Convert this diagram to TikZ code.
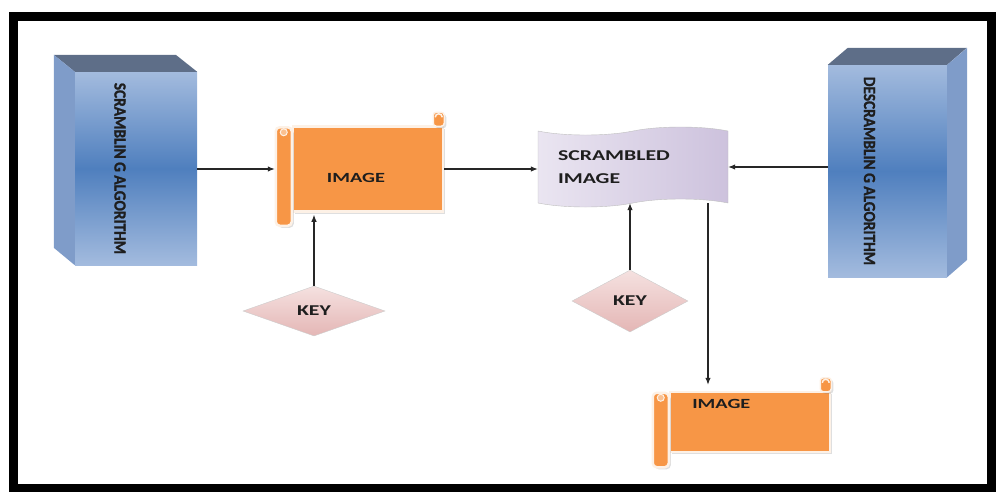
\documentclass[tikz,border=0pt]{standalone}
\usepackage{fontspec}
\setmainfont{Carlito}
\newfontfamily\widefont{Carlito}[FakeStretch=1.45]
\newfontfamily\tallfont{Carlito}[FakeStretch=0.9, FakeBold=1.2]
\usetikzlibrary{shapes.geometric,shapes.symbols,arrows.meta,shadows}
\definecolor{boxlight}{HTML}{A3BBDE}
\definecolor{boxdark}{HTML}{4F7FBE}
\definecolor{boxtop}{HTML}{5E6E88}
\definecolor{boxside}{HTML}{7F9CC9}
\definecolor{scrollorange}{HTML}{F79646}
\definecolor{scrollrim}{HTML}{FDF1E6}
\definecolor{keytop}{HTML}{F5E1E0}
\definecolor{keybot}{HTML}{E4B6B5}
\definecolor{tapeleft}{HTML}{EAE5F1}
\definecolor{taperight}{HTML}{CDC2DD}
\definecolor{txt}{HTML}{1E1E1E}

\begin{document}
\begin{tikzpicture}[x=1pt,y=-1pt,
algo/.style={draw=none, shading=axis, top color=boxlight, bottom color=boxlight,
    middle color=boxdark, inner sep=0},
algotext/.style={rotate=-90, text=txt, font=\tallfont\bfseries\fontsize{17}{19}\selectfont},
scroll/.style={fill=scrollorange, draw=scrollrim, line width=2.5,
    drop shadow={opacity=0.25, shadow xshift=2pt, shadow yshift=-2pt}},
lbl/.style={text=txt, font=\widefont\bfseries\fontsize{14}{17}\selectfont},
key/.style={diamond, inner sep=0, draw=black!20, top color=keytop, bottom color=keybot,
    text=txt, font=\widefont\bfseries\fontsize{15}{17}\selectfont},
arr/.style={-{Latex[length=7pt,width=5.5pt]}, line width=1.1, black!85}]
\useasboundingbox (0,0) rectangle (997,491);
\draw[line width=9] (13.5,16.5) rectangle (991.5,488.5);

% algorithm blocks
\node[algo, minimum width=122, minimum height=193] (scr) at (136,168.5) {};
\fill[boxtop] (scr.north west) -- ++(-21,-17) -- ++(122,0) -- (scr.north east) -- cycle;
\fill[boxside] (scr.north west) -- ++(-21,-17) -- ++(0,193) -- (scr.south west) -- cycle;
\node[algotext] (scrtext) at ([xshift=-16]scr.center) {SCRAMBLIN G ALGORITHM};

\node[algo, minimum width=119, minimum height=212] (desc) at (887.5,171) {};
\fill[boxtop] (desc.north west) -- ++(20,-17) -- ++(119,0) -- (desc.north east) -- cycle;
\fill[boxside] (desc.north east) -- ++(20,-17) -- ++(0,212) -- (desc.south east) -- cycle;
\node[algotext] (desctext) at ([xshift=-18]desc.center) {DESCRAMBLIN G ALGORITHM};

% scrolls
\node[scroll, minimum width=150, minimum height=85] (img1) at (368,169) {};
\node[lbl] (img1text) at ([shift={(-12,9)}]img1.center) {IMAGE};
\node[scroll, minimum width=160, minimum height=60] (img2) at (750,422) {};
\node[lbl, anchor=west] (img2text) at ([shift={(20,13)}]img2.north west) {IMAGE};
\foreach \n/\b in {img1/13, img2/14} {
  \draw[scroll, rounded corners=4] ([shift={(-16,2)}]\n.north west) rectangle ([yshift=-\b pt]\n.south west);
  \draw[scrollrim, line width=1, fill=scrollorange!60] ([shift={(-8,7)}]\n.north west) circle (3.5);
  \draw[scroll, line width=1.5, rounded corners=3] ([shift={(-11,1)}]\n.north east) rectangle ([shift={(0,-13)}]\n.north east);
  \draw[scrollrim, line width=1.5] ([shift={(-9,-8)}]\n.north east) arc (180:360:3.5);
}

% scrambled image
\node[tape, tape bend height=8, minimum width=190, minimum height=80, draw=black!25,
  left color=tapeleft, right color=taperight, lbl, font=\widefont\bfseries\fontsize{15}{23}\selectfont,
  text width=150, align=left] (scrimg) at (633,167) {SCRAMBLED\\IMAGE};

% keys
\node[key, minimum width=142, minimum height=50] (key1) at (314,311) {KEY};
\node[key, minimum width=116, minimum height=62] (key2) at (630,301) {KEY};

% connectors
\draw[arr] (scr.east |- img1) -- ([xshift=-17]img1.west);
\draw[arr] (img1.east) -- (img1.east -| scrimg.west);
\draw[arr] (desc.west |- scrimg.east) -- (scrimg.east);
\draw[arr] (key1.north) -- ([yshift=-2pt]key1.north |- img1.south);
\draw[arr] (key2.north) -- (key2.north |- scrimg.south);
\draw[arr, shorten >=6pt] ([xshift=75pt]scrimg.south) -- ([xshift=75pt]scrimg.south |- img2.north);
\end{tikzpicture}
\end{document}
